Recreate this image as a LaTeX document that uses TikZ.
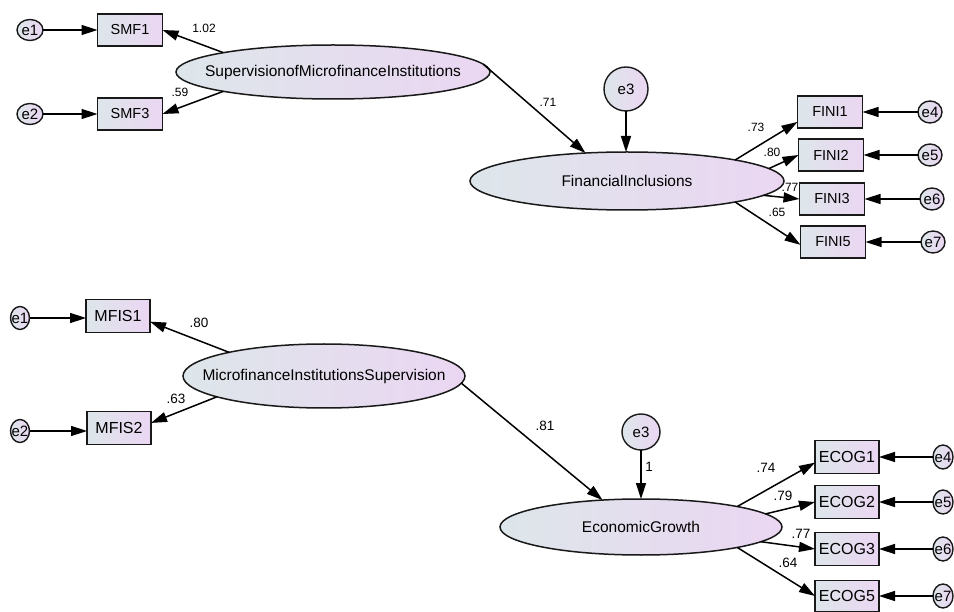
\documentclass[tikz,border=0pt]{standalone}
\usepackage{fontspec}
\setmainfont{Liberation Sans}
\usetikzlibrary{shapes.geometric,arrows.meta}
\definecolor{cl}{HTML}{DDE6EA}
\definecolor{cr}{HTML}{EBD6F2}
\begin{document}
\begin{tikzpicture}[x=1pt,y=-1pt,
  every node/.style={inner sep=0pt,outer sep=0pt},
  obs/.style={draw=black!90,line width=1.5pt,left color=cl,right color=cr,
    minimum width=65pt,minimum height=32pt,font=\fontsize{14.5}{16}\selectfont},
  obsb/.style={obs,minimum width=64pt,minimum height=33pt,font=\fontsize{16}{18}\selectfont},
  lat/.style={ellipse,draw=black!90,line width=1.5pt,left color=cl,right color=cr,
    label={[font=\fontsize{15.5}{17}\selectfont]center:#1}},
  err/.style={ellipse,draw=black!90,line width=1.4pt,left color=cl,right color=cr,
    label={[font=\fontsize{15}{17}\selectfont]center:#1}},
  arr/.style={line width=1.5pt,-{Triangle[length=16pt,width=10pt]}},
  lbl/.style={font=\fontsize{12}{12}\selectfont},
  lblb/.style={font=\fontsize{13.5}{14}\selectfont}]
\useasboundingbox[fill=white] (0,0) rectangle (954,612);

% ---------------- top model ----------------
\node[obs] (SMF1) at (130,30) {SMF1};
\node[obs] (SMF3) at (130,114) {SMF3};
\node[err=e1,minimum width=26pt,minimum height=21pt] (te1) at (30,30) {};
\node[err=e2,minimum width=26pt,minimum height=21pt] (te2) at (30,114) {};
\node[lat=SupervisionofMicrofinanceInstitutions,minimum width=314pt,minimum height=54pt] (SMI) at (333,72) {};
\node[lat=FinancialInclusions,minimum width=314pt,minimum height=58pt] (FI) at (627,181) {};
\node[err=e3,minimum width=44pt,minimum height=44pt] (te3) at (626,89) {};
\node[obs] (FINI1) at (830,112) {FINI1};
\node[obs] (FINI2) at (831,155) {FINI2};
\node[obs] (FINI3) at (832,199) {FINI3};
\node[obs] (FINI5) at (833,242) {FINI5};
\node[err=e4,minimum width=24pt,minimum height=22pt] (te4) at (930,112) {};
\node[err=e5,minimum width=24pt,minimum height=22pt] (te5) at (930,155) {};
\node[err=e6,minimum width=24pt,minimum height=22pt] (te6) at (932,199) {};
\node[err=e7,minimum width=24pt,minimum height=22pt] (te7) at (933,242) {};

\draw[arr] (te1) -- (SMF1);
\draw[arr] (te2) -- (SMF3);
\draw[arr] (SMI.170) -- (SMF1.east);
\draw[arr] (SMI.190) -- (SMF3.east);
\draw[arr] (SMI.3) -- (FI.146);
\draw[arr] (te3) -- (FI.north -| te3);
\draw[arr] (FI.11) -- (FINI1.197);
\draw[arr] (FI.5) -- (FINI2.west);
\draw[arr] (FI.354) -- (FINI3.west);
\draw[arr] (FI.349) -- (FINI5.185);
\draw[arr] (te4) -- (FINI1);
\draw[arr] (te5) -- (FINI2);
\draw[arr] (te6) -- (FINI3);
\draw[arr] (te7) -- (FINI5);

\node[lbl] (l1) at (204,28) {1.02};
\node[lbl] (l2) at (180,92) {.59};
\node[lbl] (l3) at (548,102) {.71};
\node[lbl] (l4) at (756,127) {.73};
\node[lbl] (l5) at (772,152) {.80};
\node[lbl] (l6) at (790,187) {.77};
\node[lbl] (l7) at (777,212) {.65};

% ---------------- bottom model ----------------
\node[obsb] (MFIS1) at (118,316) {MFIS1};
\node[obsb] (MFIS2) at (119,428) {MFIS2};
\node[err=e1,minimum width=19pt,minimum height=23pt] (be1) at (20,318) {};
\node[err=e2,minimum width=19pt,minimum height=23pt] (be2) at (20,431) {};
\node[lat=MicrofinanceInstitutionsSupervision,minimum width=282pt,minimum height=64pt] (MIS) at (324,376) {};
\node[lat=EconomicGrowth,minimum width=282pt,minimum height=56pt] (EG) at (641,527) {};
\node[err=e3,minimum width=38pt,minimum height=36pt] (be3) at (641,432) {};
\node[obsb] (ECOG1) at (847,457) {ECOG1};
\node[obsb] (ECOG2) at (847,502) {ECOG2};
\node[obsb] (ECOG3) at (847,549) {ECOG3};
\node[obsb,minimum height=31pt] (ECOG5) at (847,596) {ECOG5};
\node[err=e4,minimum width=20pt,minimum height=24pt] (be4) at (943,457) {};
\node[err=e5,minimum width=20pt,minimum height=24pt] (be5) at (943,502) {};
\node[err=e6,minimum width=20pt,minimum height=24pt] (be6) at (943,549) {};
\node[err=e7,minimum width=20pt,minimum height=24pt] (be7) at (943,596) {};

\draw[arr] (be1) -- (be1 -| MFIS1.west);
\draw[arr] (be2) -- (be2 -| MFIS2.west);
\draw[arr] (MIS.166) -- (MFIS1.350);
\draw[arr] (MIS.191) -- (MFIS2.9);
\draw[arr] (MIS.357) -- (EG.145);
\draw[arr] (be3) -- (EG.north -| be3);
\draw[arr] (EG.12) -- (ECOG1.190);
\draw[arr] (EG.6) -- (ECOG2.west);
\draw[arr] (EG.353) -- (ECOG3.west);
\draw[arr] (EG.348) -- (ECOG5.west);
\draw[arr] (be4) -- (ECOG1);
\draw[arr] (be5) -- (ECOG2);
\draw[arr] (be6) -- (ECOG3);
\draw[arr] (be7) -- (ECOG5);

\node[lblb] (m1) at (199,323) {.80};
\node[lblb] (m2) at (176,399) {.63};
\node[lblb] (m3) at (545,426) {.81};
\node[lblb] (m4) at (649,467) {1};
\node[lblb] (m5) at (766,468) {.74};
\node[lblb] (m6) at (783,496) {.79};
\node[lblb] (m7) at (801,534) {.77};
\node[lblb] (m8) at (788,563) {.64};
\end{tikzpicture}
\end{document}
